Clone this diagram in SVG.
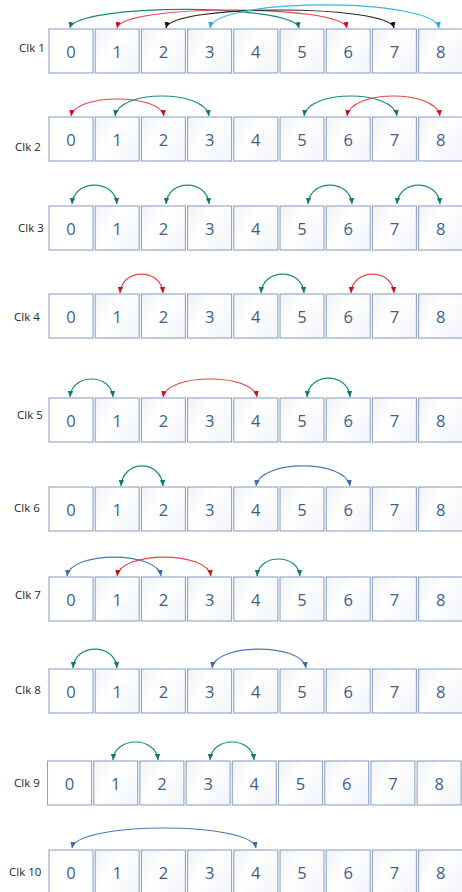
<svg xmlns="http://www.w3.org/2000/svg" width="462" height="892" viewBox="0 0 462 892">
<style>
.lbl{font-family:"Open Sans","Liberation Sans",sans-serif;font-size:11.5px;fill:#262626}
.num{font-family:"Open Sans","Liberation Sans",sans-serif;font-size:16.5px;fill:#3D5F8E;text-anchor:middle}
.b0{fill:#FFFFFF;stroke:#8FA5C3;stroke-width:1.1}
.b{fill:url(#gb);stroke:#8FA5C3;stroke-width:1.1}
.arc{fill:none;stroke-width:1.2}
.teal{stroke:#1A8A7F;marker-start:url(#mTeal);marker-end:url(#mTeal)}
.red{stroke:#E8454A;marker-start:url(#mRed);marker-end:url(#mRed)}
.blk{stroke:#2A2A2A;marker-start:url(#mBlk);marker-end:url(#mBlk)}
.cyan{stroke:#3BB4EC;marker-start:url(#mCyan);marker-end:url(#mCyan)}
.blue{stroke:#4C79B3;marker-start:url(#mBlue);marker-end:url(#mBlue)}
</style>
<defs>
<linearGradient id="gb" x1="0" y1="0" x2="1" y2="0.6">
<stop offset="0" stop-color="#DCE2EA"/>
<stop offset="0.06" stop-color="#F2F4F7"/>
<stop offset="0.5" stop-color="#FFFFFF"/>
<stop offset="1" stop-color="#F5F6F9"/>
</linearGradient>
<marker id="mTeal" markerUnits="userSpaceOnUse" markerWidth="7" markerHeight="6" refX="6" refY="2.75" orient="auto-start-reverse"><path d="M0,0 L6,2.75 L0,5.5 z" fill="#12786E"/></marker>
<marker id="mRed" markerUnits="userSpaceOnUse" markerWidth="7" markerHeight="6" refX="6" refY="2.75" orient="auto-start-reverse"><path d="M0,0 L6,2.75 L0,5.5 z" fill="#C8101A"/></marker>
<marker id="mBlk" markerUnits="userSpaceOnUse" markerWidth="7" markerHeight="6" refX="6" refY="2.75" orient="auto-start-reverse"><path d="M0,0 L6,2.75 L0,5.5 z" fill="#111111"/></marker>
<marker id="mCyan" markerUnits="userSpaceOnUse" markerWidth="7" markerHeight="6" refX="6" refY="2.75" orient="auto-start-reverse"><path d="M0,0 L6,2.75 L0,5.5 z" fill="#1FA8E8"/></marker>
<marker id="mBlue" markerUnits="userSpaceOnUse" markerWidth="7" markerHeight="6" refX="6" refY="2.75" orient="auto-start-reverse"><path d="M0,0 L6,2.75 L0,5.5 z" fill="#3C68A6"/></marker>
</defs>
<rect width="462" height="892" fill="#FFFFFF"/>

<g id="clk1" transform="translate(0,29)">
<text class="lbl" x="19" y="23">Clk 1</text>
<g id="c1-n0"><rect class="b0" x="49" y="0" width="44" height="44"/><text class="num" x="71" y="29">0</text></g>
<g id="c1-n1"><rect class="b" x="95.2" y="0" width="44" height="44"/><text class="num" x="117.2" y="29">1</text></g>
<g id="c1-n2"><rect class="b" x="141.4" y="0" width="44" height="44"/><text class="num" x="163.4" y="29">2</text></g>
<g id="c1-n3"><rect class="b" x="187.6" y="0" width="44" height="44"/><text class="num" x="209.6" y="29">3</text></g>
<g id="c1-n4"><rect class="b" x="233.8" y="0" width="44" height="44"/><text class="num" x="255.8" y="29">4</text></g>
<g id="c1-n5"><rect class="b" x="280" y="0" width="44" height="44"/><text class="num" x="302" y="29">5</text></g>
<g id="c1-n6"><rect class="b" x="326.2" y="0" width="44" height="44"/><text class="num" x="348.2" y="29">6</text></g>
<g id="c1-n7"><rect class="b" x="372.4" y="0" width="44" height="44"/><text class="num" x="394.4" y="29">7</text></g>
<g id="c1-n8"><rect class="b" x="418.6" y="0" width="44" height="44"/><text class="num" x="440.6" y="29">8</text></g>
</g>

<g id="clk2" transform="translate(0,117)">
<text class="lbl" x="15" y="34">Clk 2</text>
<g id="c2-n0"><rect class="b0" x="49" y="0" width="44" height="44"/><text class="num" x="71" y="29">0</text></g>
<g id="c2-n1"><rect class="b" x="95.2" y="0" width="44" height="44"/><text class="num" x="117.2" y="29">1</text></g>
<g id="c2-n2"><rect class="b" x="141.4" y="0" width="44" height="44"/><text class="num" x="163.4" y="29">2</text></g>
<g id="c2-n3"><rect class="b" x="187.6" y="0" width="44" height="44"/><text class="num" x="209.6" y="29">3</text></g>
<g id="c2-n4"><rect class="b" x="233.8" y="0" width="44" height="44"/><text class="num" x="255.8" y="29">4</text></g>
<g id="c2-n5"><rect class="b" x="280" y="0" width="44" height="44"/><text class="num" x="302" y="29">5</text></g>
<g id="c2-n6"><rect class="b" x="326.2" y="0" width="44" height="44"/><text class="num" x="348.2" y="29">6</text></g>
<g id="c2-n7"><rect class="b" x="372.4" y="0" width="44" height="44"/><text class="num" x="394.4" y="29">7</text></g>
<g id="c2-n8"><rect class="b" x="418.6" y="0" width="44" height="44"/><text class="num" x="440.6" y="29">8</text></g>
</g>

<g id="clk3" transform="translate(0,206)">
<text class="lbl" x="18" y="26">Clk 3</text>
<g id="c3-n0"><rect class="b0" x="49" y="0" width="44" height="44"/><text class="num" x="71" y="29">0</text></g>
<g id="c3-n1"><rect class="b" x="95.2" y="0" width="44" height="44"/><text class="num" x="117.2" y="29">1</text></g>
<g id="c3-n2"><rect class="b" x="141.4" y="0" width="44" height="44"/><text class="num" x="163.4" y="29">2</text></g>
<g id="c3-n3"><rect class="b" x="187.6" y="0" width="44" height="44"/><text class="num" x="209.6" y="29">3</text></g>
<g id="c3-n4"><rect class="b" x="233.8" y="0" width="44" height="44"/><text class="num" x="255.8" y="29">4</text></g>
<g id="c3-n5"><rect class="b" x="280" y="0" width="44" height="44"/><text class="num" x="302" y="29">5</text></g>
<g id="c3-n6"><rect class="b" x="326.2" y="0" width="44" height="44"/><text class="num" x="348.2" y="29">6</text></g>
<g id="c3-n7"><rect class="b" x="372.4" y="0" width="44" height="44"/><text class="num" x="394.4" y="29">7</text></g>
<g id="c3-n8"><rect class="b" x="418.6" y="0" width="44" height="44"/><text class="num" x="440.6" y="29">8</text></g>
</g>

<g id="clk4" transform="translate(0,294)">
<text class="lbl" x="14" y="27">Clk 4</text>
<g id="c4-n0"><rect class="b0" x="49" y="0" width="44" height="44"/><text class="num" x="71" y="29">0</text></g>
<g id="c4-n1"><rect class="b" x="95.2" y="0" width="44" height="44"/><text class="num" x="117.2" y="29">1</text></g>
<g id="c4-n2"><rect class="b" x="141.4" y="0" width="44" height="44"/><text class="num" x="163.4" y="29">2</text></g>
<g id="c4-n3"><rect class="b" x="187.6" y="0" width="44" height="44"/><text class="num" x="209.6" y="29">3</text></g>
<g id="c4-n4"><rect class="b" x="233.8" y="0" width="44" height="44"/><text class="num" x="255.8" y="29">4</text></g>
<g id="c4-n5"><rect class="b" x="280" y="0" width="44" height="44"/><text class="num" x="302" y="29">5</text></g>
<g id="c4-n6"><rect class="b" x="326.2" y="0" width="44" height="44"/><text class="num" x="348.2" y="29">6</text></g>
<g id="c4-n7"><rect class="b" x="372.4" y="0" width="44" height="44"/><text class="num" x="394.4" y="29">7</text></g>
<g id="c4-n8"><rect class="b" x="418.6" y="0" width="44" height="44"/><text class="num" x="440.6" y="29">8</text></g>
</g>

<g id="clk5" transform="translate(0,398)">
<text class="lbl" x="17" y="21">Clk 5</text>
<g id="c5-n0"><rect class="b0" x="49" y="0" width="44" height="44"/><text class="num" x="71" y="29">0</text></g>
<g id="c5-n1"><rect class="b" x="95.2" y="0" width="44" height="44"/><text class="num" x="117.2" y="29">1</text></g>
<g id="c5-n2"><rect class="b" x="141.4" y="0" width="44" height="44"/><text class="num" x="163.4" y="29">2</text></g>
<g id="c5-n3"><rect class="b" x="187.6" y="0" width="44" height="44"/><text class="num" x="209.6" y="29">3</text></g>
<g id="c5-n4"><rect class="b" x="233.8" y="0" width="44" height="44"/><text class="num" x="255.8" y="29">4</text></g>
<g id="c5-n5"><rect class="b" x="280" y="0" width="44" height="44"/><text class="num" x="302" y="29">5</text></g>
<g id="c5-n6"><rect class="b" x="326.2" y="0" width="44" height="44"/><text class="num" x="348.2" y="29">6</text></g>
<g id="c5-n7"><rect class="b" x="372.4" y="0" width="44" height="44"/><text class="num" x="394.4" y="29">7</text></g>
<g id="c5-n8"><rect class="b" x="418.6" y="0" width="44" height="44"/><text class="num" x="440.6" y="29">8</text></g>
</g>

<g id="clk6" transform="translate(0,487)">
<text class="lbl" x="14" y="25">Clk 6</text>
<g id="c6-n0"><rect class="b0" x="49" y="0" width="44" height="44"/><text class="num" x="71" y="29">0</text></g>
<g id="c6-n1"><rect class="b" x="95.2" y="0" width="44" height="44"/><text class="num" x="117.2" y="29">1</text></g>
<g id="c6-n2"><rect class="b" x="141.4" y="0" width="44" height="44"/><text class="num" x="163.4" y="29">2</text></g>
<g id="c6-n3"><rect class="b" x="187.6" y="0" width="44" height="44"/><text class="num" x="209.6" y="29">3</text></g>
<g id="c6-n4"><rect class="b" x="233.8" y="0" width="44" height="44"/><text class="num" x="255.8" y="29">4</text></g>
<g id="c6-n5"><rect class="b" x="280" y="0" width="44" height="44"/><text class="num" x="302" y="29">5</text></g>
<g id="c6-n6"><rect class="b" x="326.2" y="0" width="44" height="44"/><text class="num" x="348.2" y="29">6</text></g>
<g id="c6-n7"><rect class="b" x="372.4" y="0" width="44" height="44"/><text class="num" x="394.4" y="29">7</text></g>
<g id="c6-n8"><rect class="b" x="418.6" y="0" width="44" height="44"/><text class="num" x="440.6" y="29">8</text></g>
</g>

<g id="clk7" transform="translate(0,577)">
<text class="lbl" x="15" y="22">Clk 7</text>
<g id="c7-n0"><rect class="b0" x="49" y="0" width="44" height="44"/><text class="num" x="71" y="29">0</text></g>
<g id="c7-n1"><rect class="b" x="95.2" y="0" width="44" height="44"/><text class="num" x="117.2" y="29">1</text></g>
<g id="c7-n2"><rect class="b" x="141.4" y="0" width="44" height="44"/><text class="num" x="163.4" y="29">2</text></g>
<g id="c7-n3"><rect class="b" x="187.6" y="0" width="44" height="44"/><text class="num" x="209.6" y="29">3</text></g>
<g id="c7-n4"><rect class="b" x="233.8" y="0" width="44" height="44"/><text class="num" x="255.8" y="29">4</text></g>
<g id="c7-n5"><rect class="b" x="280" y="0" width="44" height="44"/><text class="num" x="302" y="29">5</text></g>
<g id="c7-n6"><rect class="b" x="326.2" y="0" width="44" height="44"/><text class="num" x="348.2" y="29">6</text></g>
<g id="c7-n7"><rect class="b" x="372.4" y="0" width="44" height="44"/><text class="num" x="394.4" y="29">7</text></g>
<g id="c7-n8"><rect class="b" x="418.6" y="0" width="44" height="44"/><text class="num" x="440.6" y="29">8</text></g>
</g>

<g id="clk8" transform="translate(0,669)">
<text class="lbl" x="15" y="25">Clk 8</text>
<g id="c8-n0"><rect class="b0" x="49" y="0" width="44" height="44"/><text class="num" x="71" y="29">0</text></g>
<g id="c8-n1"><rect class="b" x="95.2" y="0" width="44" height="44"/><text class="num" x="117.2" y="29">1</text></g>
<g id="c8-n2"><rect class="b" x="141.4" y="0" width="44" height="44"/><text class="num" x="163.4" y="29">2</text></g>
<g id="c8-n3"><rect class="b" x="187.6" y="0" width="44" height="44"/><text class="num" x="209.6" y="29">3</text></g>
<g id="c8-n4"><rect class="b" x="233.8" y="0" width="44" height="44"/><text class="num" x="255.8" y="29">4</text></g>
<g id="c8-n5"><rect class="b" x="280" y="0" width="44" height="44"/><text class="num" x="302" y="29">5</text></g>
<g id="c8-n6"><rect class="b" x="326.2" y="0" width="44" height="44"/><text class="num" x="348.2" y="29">6</text></g>
<g id="c8-n7"><rect class="b" x="372.4" y="0" width="44" height="44"/><text class="num" x="394.4" y="29">7</text></g>
<g id="c8-n8"><rect class="b" x="418.6" y="0" width="44" height="44"/><text class="num" x="440.6" y="29">8</text></g>
</g>

<g id="clk9" transform="translate(-1.5,761)">
<text class="lbl" x="15.5" y="26">Clk 9</text>
<g id="c9-n0"><rect class="b0" x="49" y="0" width="44" height="44"/><text class="num" x="71" y="29">0</text></g>
<g id="c9-n1"><rect class="b" x="95.2" y="0" width="44" height="44"/><text class="num" x="117.2" y="29">1</text></g>
<g id="c9-n2"><rect class="b" x="141.4" y="0" width="44" height="44"/><text class="num" x="163.4" y="29">2</text></g>
<g id="c9-n3"><rect class="b" x="187.6" y="0" width="44" height="44"/><text class="num" x="209.6" y="29">3</text></g>
<g id="c9-n4"><rect class="b" x="233.8" y="0" width="44" height="44"/><text class="num" x="255.8" y="29">4</text></g>
<g id="c9-n5"><rect class="b" x="280" y="0" width="44" height="44"/><text class="num" x="302" y="29">5</text></g>
<g id="c9-n6"><rect class="b" x="326.2" y="0" width="44" height="44"/><text class="num" x="348.2" y="29">6</text></g>
<g id="c9-n7"><rect class="b" x="372.4" y="0" width="44" height="44"/><text class="num" x="394.4" y="29">7</text></g>
<g id="c9-n8"><rect class="b" x="418.6" y="0" width="44" height="44"/><text class="num" x="440.6" y="29">8</text></g>
</g>

<g id="clk10" transform="translate(0,850)">
<text class="lbl" x="9" y="26">Clk 10</text>
<g id="c10-n0"><rect class="b0" x="49" y="0" width="44" height="44"/><text class="num" x="71" y="29">0</text></g>
<g id="c10-n1"><rect class="b" x="95.2" y="0" width="44" height="44"/><text class="num" x="117.2" y="29">1</text></g>
<g id="c10-n2"><rect class="b" x="141.4" y="0" width="44" height="44"/><text class="num" x="163.4" y="29">2</text></g>
<g id="c10-n3"><rect class="b" x="187.6" y="0" width="44" height="44"/><text class="num" x="209.6" y="29">3</text></g>
<g id="c10-n4"><rect class="b" x="233.8" y="0" width="44" height="44"/><text class="num" x="255.8" y="29">4</text></g>
<g id="c10-n5"><rect class="b" x="280" y="0" width="44" height="44"/><text class="num" x="302" y="29">5</text></g>
<g id="c10-n6"><rect class="b" x="326.2" y="0" width="44" height="44"/><text class="num" x="348.2" y="29">6</text></g>
<g id="c10-n7"><rect class="b" x="372.4" y="0" width="44" height="44"/><text class="num" x="394.4" y="29">7</text></g>
<g id="c10-n8"><rect class="b" x="418.6" y="0" width="44" height="44"/><text class="num" x="440.6" y="29">8</text></g>
</g>

<g id="connectors">
<!-- Clk 1 -->
<path class="arc teal" d="M70,28 C75,3.3 294,3.3 299,28"/>
<path class="arc red" d="M117,28 C122,4 342,4 347,28"/>
<path class="arc blk" d="M166,28 C171,4 389,4 394,28"/>
<path class="arc cyan" d="M210,28 C215,-2.7 434,-2.7 439,28"/>
<!-- Clk 2 -->
<path class="arc red" d="M71,116 C75,93.3 160,93.3 164,116"/>
<path class="arc teal" d="M115,116 C119,89.3 205,89.3 209,116"/>
<path class="arc teal" d="M304,116 C308,89.3 393,89.3 397,116"/>
<path class="arc red" d="M347,116 C351,89.3 436,89.3 440,116"/>
<!-- Clk 3 -->
<path class="arc teal" d="M72,204 C74,178.7 115,178.7 117,204"/>
<path class="arc teal" d="M166,204 C168,178.7 207,178.7 209,204"/>
<path class="arc teal" d="M308,204 C310,178.7 350,178.7 352,204"/>
<path class="arc teal" d="M397,204 C399,178.7 438,178.7 440,204"/>
<!-- Clk 4 -->
<path class="arc red" d="M120,293 C122,267.7 161,267.7 163,293"/>
<path class="arc teal" d="M261,293 C263,267.7 302,267.7 304,293"/>
<path class="arc red" d="M351,293 C353,267.7 392,267.7 394,293"/>
<!-- Clk 5 -->
<path class="arc teal" d="M70,397 C72,373 111,373 113,397"/>
<path class="arc red" d="M163,397 C167,373 253,373 257,397"/>
<path class="arc teal" d="M307,397 C309,371.7 348,371.7 350,397"/>
<!-- Clk 6 -->
<path class="arc teal" d="M121,486 C123,459.3 161,459.3 163,486"/>
<path class="arc blue" d="M256,486 C260,459.3 346,459.3 350,486"/>
<!-- Clk 7 -->
<path class="arc blue" d="M67,576 C71,550.7 157,550.7 161,576"/>
<path class="arc red" d="M117,576 C121,550.7 207,550.7 211,576"/>
<path class="arc teal" d="M257,576 C259,553.3 298,553.3 300,576"/>
<!-- Clk 8 -->
<path class="arc teal" d="M73,668 C75,642.7 115,642.7 117,668"/>
<path class="arc blue" d="M212,668 C216,642.7 302,642.7 306,668"/>
<!-- Clk 9 -->
<path class="arc teal" d="M113,760 C115,736 156,736 158,760"/>
<path class="arc teal" d="M210,760 C212,736 252,736 254,760"/>
<!-- Clk 10 -->
<path class="arc blue" d="M72,848 C77,821.3 251,821.3 256,848"/>
</g>
</svg>
